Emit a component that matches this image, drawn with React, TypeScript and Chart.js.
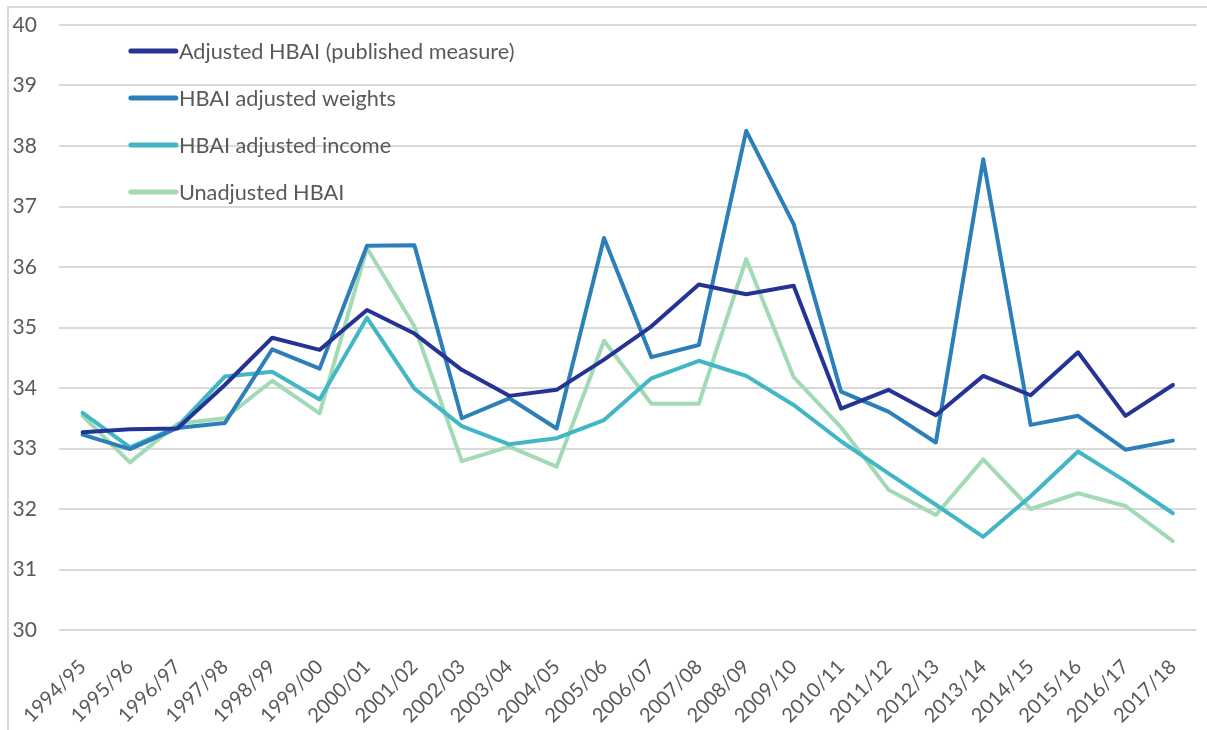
import React, { useEffect, useRef } from "react";
import { Chart, registerables } from "chart.js";

Chart.register(...registerables);

const years = [
  "1994/95", "1995/96", "1996/97", "1997/98", "1998/99", "1999/00", "2000/01", "2001/02",
  "2002/03", "2003/04", "2004/05", "2005/06", "2006/07", "2007/08", "2008/09", "2009/10",
  "2010/11", "2011/12", "2012/13", "2013/14", "2014/15", "2015/16", "2016/17", "2017/18",
];

const adjustedPublished = [
  33.27, 33.32, 33.33, 34.05, 34.83, 34.63, 35.29, 34.9, 34.3, 33.87, 33.97, 34.47,
  35.02, 35.71, 35.55, 35.69, 33.66, 33.97, 33.55, 34.2, 33.88, 34.59, 33.54, 34.05,
];
const adjustedWeights = [
  33.23, 32.99, 33.34, 33.42, 34.64, 34.32, 36.35, 36.36, 33.5, 33.83, 33.33, 36.48,
  34.51, 34.71, 38.25, 36.71, 33.94, 33.61, 33.1, 37.78, 33.39, 33.54, 32.98, 33.13,
];
const adjustedIncome = [
  33.59, 33.02, 33.36, 34.19, 34.27, 33.81, 35.16, 33.99, 33.37, 33.07, 33.17, 33.47,
  34.16, 34.45, 34.2, 33.72, 33.12, 32.59, 32.07, 31.54, 32.21, 32.95, 32.46, 31.93,
];
const unadjusted = [
  33.54, 32.77, 33.41, 33.5, 34.12, 33.58, 36.31, 35.02, 32.79, 33.03, 32.7, 34.78,
  33.74, 33.74, 36.13, 34.18, 33.35, 32.32, 31.9, 32.82, 32.0, 32.26, 32.05, 31.47,
];

const seriesLabels = [
  "Adjusted HBAI (published measure)",
  "HBAI adjusted weights",
  "HBAI adjusted income",
  "Unadjusted HBAI",
];
const seriesColors = ["#253494", "#2c7fb8", "#41b6c4", "#a1dab4"];

const FONT = "Lato, 'Noto Sans', sans-serif";
const TEXT = "#595959";

const insideLegend = {
  id: "insideLegend",
  afterDraw(chart: any) {
    const { ctx, chartArea } = chart;
    ctx.save();
    ctx.font = `21.7px ${FONT}`;
    ctx.textBaseline = "middle";
    ctx.textAlign = "left";
    chart.data.datasets.forEach((ds: any, i: number) => {
      const y = chartArea.top + 26 + i * 47;
      const x0 = chartArea.left + 72;
      ctx.strokeStyle = ds.borderColor;
      ctx.lineWidth = 5;
      ctx.lineCap = "round";
      ctx.beginPath();
      ctx.moveTo(x0, y);
      ctx.lineTo(x0 + 45, y);
      ctx.stroke();
      ctx.fillStyle = TEXT;
      ctx.fillText(ds.label, x0 + 48, y + 1);
    });
    ctx.restore();
  },
};

export default function App() {
  const ref = useRef<HTMLCanvasElement | null>(null);

  useEffect(() => {
    if (!ref.current) return;
    const values = [adjustedPublished, adjustedWeights, adjustedIncome, unadjusted];
    const chart = new Chart(ref.current, {
      type: "line",
      data: {
        labels: years,
        datasets: values.map((v, i) => ({
          label: seriesLabels[i],
          data: v,
          borderColor: seriesColors[i],
          backgroundColor: seriesColors[i],
          borderWidth: 4,
          pointRadius: 0,
          tension: 0,
          borderJoinStyle: "round" as const,
          borderCapStyle: "round" as const,
        })),
      },
      options: {
        responsive: false,
        animation: false,
        layout: { padding: { top: 17, right: 9, left: 0, bottom: 0 } },
        plugins: {
          legend: { display: false },
          tooltip: { enabled: false },
        },
        scales: {
          x: {
            offset: true,
            grid: { display: false },
            border: { display: false },
            ticks: {
              color: TEXT,
              font: { family: FONT, size: 20 },
              minRotation: 45,
              maxRotation: 45,
              autoSkip: false,
              padding: 17,
            },
            afterFit: (s: any) => {
              s.height = 100;
            },
          },
          y: {
            min: 30,
            max: 40,
            grid: { color: "#d9d9d9", lineWidth: 2, drawTicks: false },
            border: { display: false },
            ticks: {
              stepSize: 1,
              color: TEXT,
              font: { family: FONT, size: 21 },
              padding: 22,
            },
            afterFit: (s: any) => {
              s.width = 49;
              s.paddingTop = 0;
              s.paddingBottom = 0;
            },
          },
        },
      },
      plugins: [insideLegend],
    });
    return () => chart.destroy();
  }, []);

  return (
    <div
      style={{
        position: "absolute",
        left: 7,
        top: 6,
        width: 1215,
        height: 740,
        borderTop: "2px solid #d9d9d9",
        borderLeft: "2px solid #d9d9d9",
        boxSizing: "border-box",
      }}
    >
      <canvas ref={ref} width={1198} height={722} style={{ display: "block" }} />
    </div>
  );
}
